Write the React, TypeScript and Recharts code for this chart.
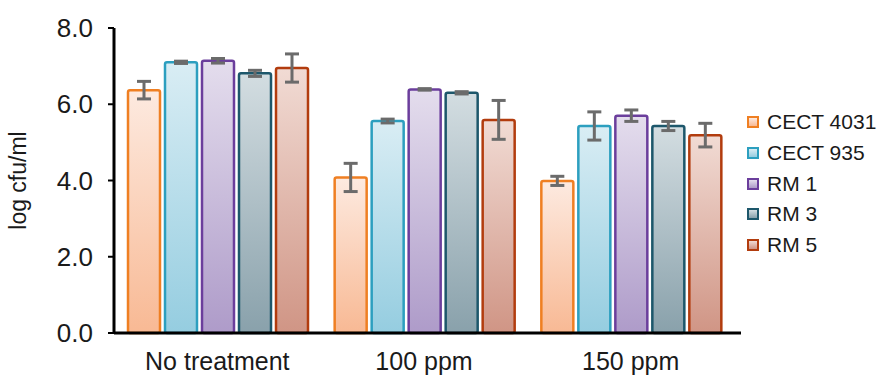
import { Bar, BarChart, ErrorBar, Legend, XAxis, YAxis } from 'recharts'

const FONT = 'Arial, "Liberation Sans", sans-serif'

const categories = ['No treatment', '100 ppm', '150 ppm']

const cect4031 = [6.37, 4.08, 3.99]
const cect4031Err = [0.23, 0.37, 0.12]
const cect935 = [7.1, 5.56, 5.43]
const cect935Err = [0.03, 0.05, 0.37]
const rm1 = [7.14, 6.39, 5.7]
const rm1Err = [0.06, 0.02, 0.15]
const rm3 = [6.81, 6.3, 5.43]
const rm3Err = [0.08, 0.03, 0.12]
const rm5 = [6.95, 5.59, 5.19]
const rm5Err = [0.37, 0.51, 0.31]

const yTicks = [0, 2, 4, 6, 8]

const series = [
  { key: 'cect4031', name: 'CECT 4031', values: cect4031, errors: cect4031Err, stroke: '#ef7f22', top: '#fdeae0', bottom: '#f8b994' },
  { key: 'cect935', name: 'CECT 935', values: cect935, errors: cect935Err, stroke: '#2c9fbf', top: '#d9edf4', bottom: '#95cde0' },
  { key: 'rm1', name: 'RM 1', values: rm1, errors: rm1Err, stroke: '#6b3e9c', top: '#e4dded', bottom: '#ae9bc9' },
  { key: 'rm3', name: 'RM 3', values: rm3, errors: rm3Err, stroke: '#1d576b', top: '#d3dde1', bottom: '#89a1ab' },
  { key: 'rm5', name: 'RM 5', values: rm5, errors: rm5Err, stroke: '#b23c0e', top: '#f1dbd4', bottom: '#d09585' },
]

const data = categories.map((category, i) => {
  const row: Record<string, string | number> = { category }
  series.forEach((s) => {
    row[s.key] = s.values[i]
    row[s.key + 'Err'] = s.errors[i]
  })
  return row
})

function LegendContent() {
  return (
    <div style={{ fontFamily: FONT, fontSize: 21, color: '#1a1a1a' }}>
      {series.map((s) => (
        <div key={s.key} style={{ display: 'flex', alignItems: 'center', height: 30.7, whiteSpace: 'nowrap' }}>
          <span
            style={{
              display: 'inline-block',
              width: 8,
              height: 8,
              border: `2.5px solid ${s.stroke}`,
              background: `linear-gradient(${s.top}, ${s.bottom})`,
              marginRight: 8,
            }}
          />
          {s.name}
        </div>
      ))}
    </div>
  )
}

export default function App() {
  return (
    <div style={{ position: 'absolute', left: 0, top: 0, width: 882, height: 376, background: '#fff' }}>
      <BarChart
        width={882}
        height={376}
        data={data}
        margin={{ top: 28, right: 141, bottom: 0, left: 0 }}
        barCategoryGap={14}
        barGap={5}
      >
        <defs>
          {series.map((s) => (
            <linearGradient key={s.key} id={`grad-${s.key}`} x1="0" y1="0" x2="0" y2="1">
              <stop offset="0%" stopColor={s.top} />
              <stop offset="100%" stopColor={s.bottom} />
            </linearGradient>
          ))}
        </defs>
        <XAxis
          dataKey="category"
          height={43}
          padding={{ left: 0, right: 7 }}
          axisLine={{ stroke: '#000', strokeWidth: 3 }}
          tickLine={false}
          tickMargin={13}
          tick={{ fill: '#1a1a1a', fontSize: 25, fontFamily: FONT }}
        />
        <YAxis
          width={114}
          domain={[0, 8]}
          ticks={yTicks}
          tickFormatter={(v: number) => v.toFixed(1)}
          axisLine={{ stroke: '#000', strokeWidth: 3 }}
          tickLine={{ stroke: '#000', strokeWidth: 2 }}
          tickMargin={15}
          tick={{ fill: '#1a1a1a', fontSize: 26, fontFamily: FONT }}
          label={{
            value: 'log cfu/ml',
            angle: -90,
            position: 'insideLeft',
            offset: 18,
            style: { textAnchor: 'middle', fontSize: 23, fontFamily: FONT, fill: '#1a1a1a' },
          }}
        />
        <Legend
          layout="horizontal"
          verticalAlign="middle"
          align="center"
          content={<LegendContent />}
          wrapperStyle={{ left: 747, top: 107, width: 135 }}
        />
        {series.map((s) => (
          <Bar
            key={s.key}
            dataKey={s.key}
            name={s.name}
            fill={`url(#grad-${s.key})`}
            stroke={s.stroke}
            strokeWidth={2.5}
            radius={2}
            isAnimationActive={false}
          >
            <ErrorBar dataKey={s.key + 'Err'} width={7} stroke="#6b6b6b" strokeWidth={3} direction="y" />
          </Bar>
        ))}
      </BarChart>
    </div>
  )
}
